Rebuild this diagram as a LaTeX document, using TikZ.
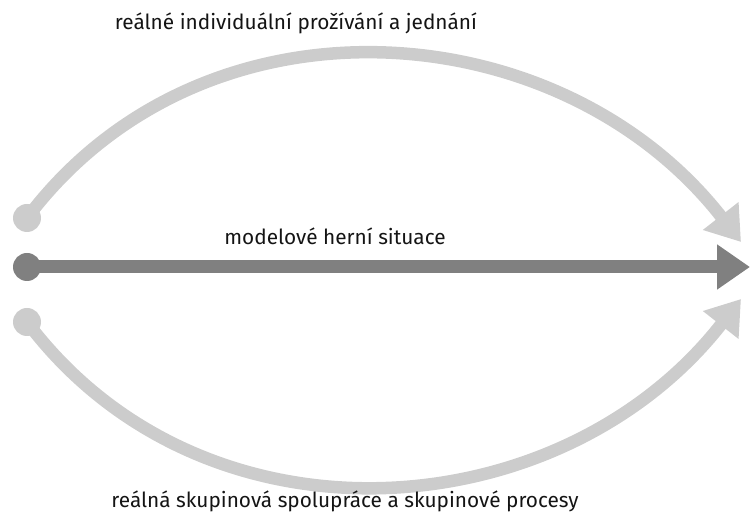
\documentclass[tikz,border=0pt]{standalone}
\usepackage{fontspec}
\setmainfont{Fira Sans}
\usetikzlibrary{arrows.meta}
\tikzset{
	dot/.style={circle, inner sep=0pt, minimum size=28pt},
	flow/.style={line width=12.5pt, -{Triangle[length=33pt,width=43pt]}},
	lbl/.style={anchor=base, font=\fontsize{20.8pt}{24pt}\selectfont, text=black!92}
}

\begin{document}
\begin{tikzpicture}[x=1pt, y=1pt]
		%%%%% START %%%%%
		
		\useasboundingbox (0, 0) rectangle (750, 519);
		
		\node[dot, fill=black!20] (indiv) at (27, 301) {};
		\node[dot, fill=black!50] (model) at (27, 252) {};
		\node[dot, fill=black!20] (group) at (27, 197) {};
		
		\coordinate (indivEnd) at (741, 277);
		\coordinate (modelEnd) at (750, 252);
		\coordinate (groupEnd) at (741, 220);
		
		\draw[flow, color=black!20] (indiv.center) to[out=53, in=128, looseness=1.05] (indivEnd);
		\draw[flow, color=black!50, line width=13pt] (model.center) -- (modelEnd);
		\draw[flow, color=black!20] (group.center) to[out=-53, in=-128, looseness=1.05] (groupEnd);
		
		\node[lbl] (indivText) at (296, 489) {reálné individuální prožívání a jednání};
		\node[lbl] (modelText) at (335, 274) {modelové herní situace};
		\node[lbl] (groupText) at (345, 11) {reálná skupinová spolupráce a skupinové procesy};
		
		%%%%% END %%%%%
	\end{tikzpicture}
\end{document}
